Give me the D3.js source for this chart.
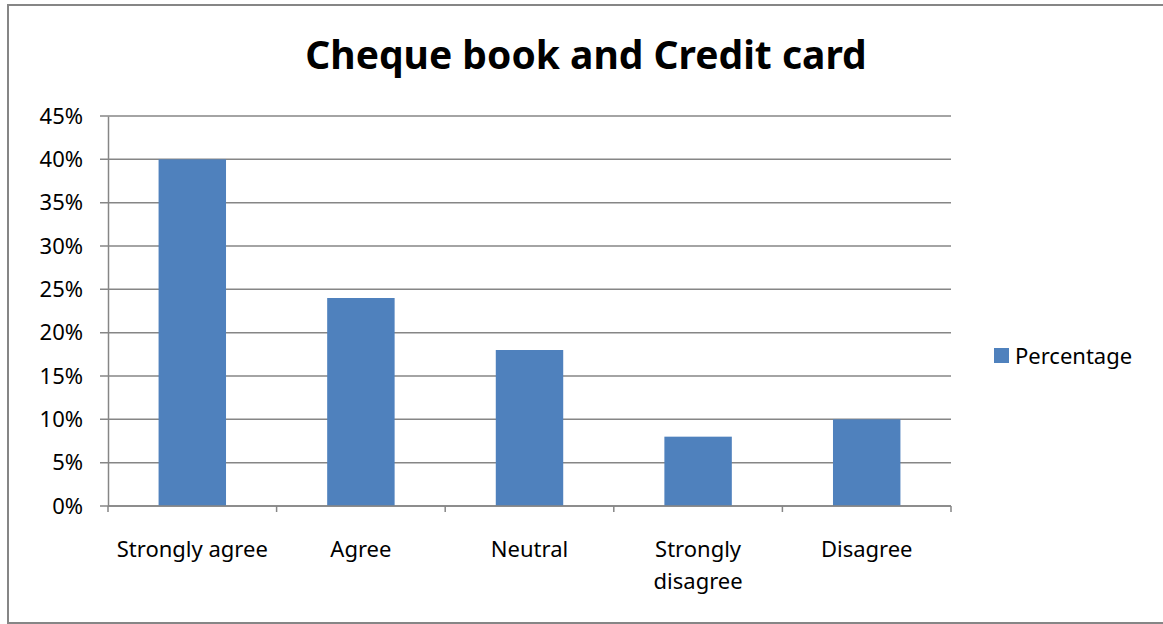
<!DOCTYPE html>
<html><head><meta charset="utf-8">
<script src="https://cdn.jsdelivr.net/npm/d3@7/dist/d3.min.js"></script>
<style>body{margin:0;background:#fff;} svg{display:block;}</style>
</head><body>
<svg id="chart" width="1163" height="624"></svg>
<script>
const categories = ["Strongly agree", "Agree", "Neutral", "Strongly disagree", "Disagree"];
const values = [0.40, 0.24, 0.18, 0.08, 0.10];
const yTicks = [0, 0.05, 0.10, 0.15, 0.20, 0.25, 0.30, 0.35, 0.40, 0.45];
const seriesName = "Percentage";
const title = "Cheque book and Credit card";

const font = "'Noto Sans', 'Open Sans', sans-serif";
const svg = d3.select("#chart");
svg.append("rect").attr("x", 8).attr("y", 5).attr("width", 1170).attr("height", 618)
  .attr("fill", "#fff").attr("stroke", "#868686").attr("stroke-width", 2);

const L = 108, R = 951, T = 116, B = 506;
const x = d3.scaleBand().domain(categories).range([L, R]).paddingInner(0.6).paddingOuter(0.3);
const y = d3.scaleLinear().domain([0, 0.45]).range([B, T]);

// gridlines
svg.append("g").selectAll("line").data(yTicks).join("line")
  .attr("x1", L - 8).attr("x2", R).attr("y1", d => y(d)).attr("y2", d => y(d))
  .attr("stroke", "#868686").attr("stroke-width", 1.5);

// bars
svg.append("g").selectAll("rect").data(values).join("rect")
  .attr("x", (d, i) => x(categories[i])).attr("width", x.bandwidth())
  .attr("y", d => y(d)).attr("height", d => B - y(d))
  .attr("fill", "#4F81BD");

// y axis
const yAxis = d3.axisLeft(y).tickValues(yTicks).tickFormat(d3.format(".0%")).tickSize(0).tickPadding(25);
const gy = svg.append("g").attr("transform", `translate(${L},0)`).call(yAxis);
gy.select(".domain").attr("stroke", "#868686").attr("stroke-width", 1.5);
gy.selectAll("text").attr("font-family", font).attr("font-size", 22).attr("fill", "#000");

// x axis
const step = x.step();
const bounds = d3.range(categories.length + 1).map(i => L + i * step);
const gx = svg.append("g");
gx.append("line").attr("x1", L).attr("x2", R).attr("y1", B).attr("y2", B)
  .attr("stroke", "#868686").attr("stroke-width", 1.5);
gx.selectAll("line.tk").data(bounds).join("line").attr("class", "tk")
  .attr("x1", d => d).attr("x2", d => d).attr("y1", B).attr("y2", B + 6)
  .attr("stroke", "#868686").attr("stroke-width", 1.5);
const wrap = { "Strongly disagree": ["Strongly", "disagree"] };
gx.selectAll("text").data(categories).join("text")
  .attr("font-family", font).attr("font-size", 22).attr("fill", "#000")
  .attr("text-anchor", "middle")
  .attr("x", d => x(d) + x.bandwidth() / 2).attr("y", 557)
  .each(function(d) {
    const lines = wrap[d] || [d];
    d3.select(this).selectAll("tspan").data(lines).join("tspan")
      .attr("x", x(d) + x.bandwidth() / 2).attr("dy", (l, i) => i === 0 ? 0 : 32).text(l => l);
  });

// title
svg.append("text").attr("x", 586).attr("y", 69).attr("text-anchor", "middle")
  .attr("font-family", font).attr("font-weight", "bold").attr("font-size", 39).attr("fill", "#000")
  .text(title);

// legend
svg.append("rect").attr("x", 994).attr("y", 348).attr("width", 15).attr("height", 15).attr("fill", "#4F81BD");
svg.append("text").attr("x", 1015).attr("y", 364).attr("font-family", font).attr("font-size", 22)
  .attr("fill", "#000").text(seriesName);
</script>
</body></html>
